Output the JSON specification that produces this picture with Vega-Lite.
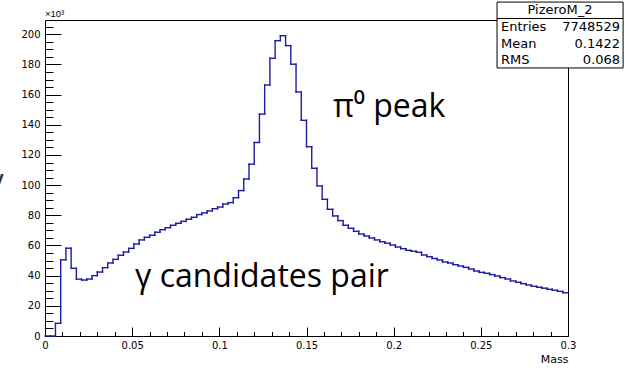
{
  "$schema": "https://vega.github.io/schema/vega-lite/v6.json",
  "width": 523,
  "height": 316,
  "autosize": {"type": "none"},
  "padding": {"left": 45, "top": 20, "right": 57, "bottom": 32},
  "background": "#ffffff",
  "config": {
    "view": {"stroke": "#000000", "strokeWidth": 1},
    "axis": {
      "labelFont": "DejaVu Sans",
      "labelFontSize": 10,
      "labelColor": "#000000",
      "tickColor": "#000000",
      "tickWidth": 1,
      "domain": false,
      "grid": false,
      "title": null
    },
    "text": {"font": "Open Sans"}
  },
  "datasets": {
    "hist": [
      {"lo": 0.000, "hi": 0.003, "n": 0},
      {"lo": 0.003, "hi": 0.006, "n": 0},
      {"lo": 0.006, "hi": 0.009, "n": 8400},
      {"lo": 0.009, "hi": 0.012, "n": 50500},
      {"lo": 0.012, "hi": 0.015, "n": 58200},
      {"lo": 0.015, "hi": 0.018, "n": 44900},
      {"lo": 0.018, "hi": 0.021, "n": 37700},
      {"lo": 0.021, "hi": 0.024, "n": 37100},
      {"lo": 0.024, "hi": 0.027, "n": 37800},
      {"lo": 0.027, "hi": 0.030, "n": 40000},
      {"lo": 0.030, "hi": 0.033, "n": 42400},
      {"lo": 0.033, "hi": 0.036, "n": 45300},
      {"lo": 0.036, "hi": 0.039, "n": 48400},
      {"lo": 0.039, "hi": 0.042, "n": 50800},
      {"lo": 0.042, "hi": 0.045, "n": 53500},
      {"lo": 0.045, "hi": 0.048, "n": 55700},
      {"lo": 0.048, "hi": 0.051, "n": 58100},
      {"lo": 0.051, "hi": 0.054, "n": 61000},
      {"lo": 0.054, "hi": 0.057, "n": 63700},
      {"lo": 0.057, "hi": 0.060, "n": 65400},
      {"lo": 0.060, "hi": 0.063, "n": 66800},
      {"lo": 0.063, "hi": 0.066, "n": 68800},
      {"lo": 0.066, "hi": 0.069, "n": 70500},
      {"lo": 0.069, "hi": 0.072, "n": 71800},
      {"lo": 0.072, "hi": 0.075, "n": 73400},
      {"lo": 0.075, "hi": 0.078, "n": 74700},
      {"lo": 0.078, "hi": 0.081, "n": 76000},
      {"lo": 0.081, "hi": 0.084, "n": 77400},
      {"lo": 0.084, "hi": 0.087, "n": 78700},
      {"lo": 0.087, "hi": 0.090, "n": 80500},
      {"lo": 0.090, "hi": 0.093, "n": 81600},
      {"lo": 0.093, "hi": 0.096, "n": 82900},
      {"lo": 0.096, "hi": 0.099, "n": 84400},
      {"lo": 0.099, "hi": 0.102, "n": 85500},
      {"lo": 0.102, "hi": 0.105, "n": 87500},
      {"lo": 0.105, "hi": 0.108, "n": 88400},
      {"lo": 0.108, "hi": 0.111, "n": 91700},
      {"lo": 0.111, "hi": 0.114, "n": 96400},
      {"lo": 0.114, "hi": 0.117, "n": 104100},
      {"lo": 0.117, "hi": 0.120, "n": 113900},
      {"lo": 0.120, "hi": 0.123, "n": 128300},
      {"lo": 0.123, "hi": 0.126, "n": 147100},
      {"lo": 0.126, "hi": 0.129, "n": 166400},
      {"lo": 0.129, "hi": 0.132, "n": 184100},
      {"lo": 0.132, "hi": 0.135, "n": 195800},
      {"lo": 0.135, "hi": 0.138, "n": 199100},
      {"lo": 0.138, "hi": 0.141, "n": 192500},
      {"lo": 0.141, "hi": 0.144, "n": 180200},
      {"lo": 0.144, "hi": 0.147, "n": 161800},
      {"lo": 0.147, "hi": 0.150, "n": 143000},
      {"lo": 0.150, "hi": 0.153, "n": 125500},
      {"lo": 0.153, "hi": 0.156, "n": 111200},
      {"lo": 0.156, "hi": 0.159, "n": 99500},
      {"lo": 0.159, "hi": 0.162, "n": 90600},
      {"lo": 0.162, "hi": 0.165, "n": 84000},
      {"lo": 0.165, "hi": 0.168, "n": 79600},
      {"lo": 0.168, "hi": 0.171, "n": 76500},
      {"lo": 0.171, "hi": 0.174, "n": 73400},
      {"lo": 0.174, "hi": 0.177, "n": 71400},
      {"lo": 0.177, "hi": 0.180, "n": 69400},
      {"lo": 0.180, "hi": 0.183, "n": 67600},
      {"lo": 0.183, "hi": 0.186, "n": 66300},
      {"lo": 0.186, "hi": 0.189, "n": 65000},
      {"lo": 0.189, "hi": 0.192, "n": 63700},
      {"lo": 0.192, "hi": 0.195, "n": 62500},
      {"lo": 0.195, "hi": 0.198, "n": 61500},
      {"lo": 0.198, "hi": 0.201, "n": 60300},
      {"lo": 0.201, "hi": 0.204, "n": 59000},
      {"lo": 0.204, "hi": 0.207, "n": 57900},
      {"lo": 0.207, "hi": 0.210, "n": 56800},
      {"lo": 0.210, "hi": 0.213, "n": 56200},
      {"lo": 0.213, "hi": 0.216, "n": 55500},
      {"lo": 0.216, "hi": 0.219, "n": 53700},
      {"lo": 0.219, "hi": 0.222, "n": 52600},
      {"lo": 0.222, "hi": 0.225, "n": 51400},
      {"lo": 0.225, "hi": 0.228, "n": 50400},
      {"lo": 0.228, "hi": 0.231, "n": 49100},
      {"lo": 0.231, "hi": 0.234, "n": 48400},
      {"lo": 0.234, "hi": 0.237, "n": 47300},
      {"lo": 0.237, "hi": 0.240, "n": 46400},
      {"lo": 0.240, "hi": 0.243, "n": 45500},
      {"lo": 0.243, "hi": 0.246, "n": 44400},
      {"lo": 0.246, "hi": 0.249, "n": 43100},
      {"lo": 0.249, "hi": 0.252, "n": 42200},
      {"lo": 0.252, "hi": 0.255, "n": 41600},
      {"lo": 0.255, "hi": 0.258, "n": 40700},
      {"lo": 0.258, "hi": 0.261, "n": 39800},
      {"lo": 0.261, "hi": 0.264, "n": 38700},
      {"lo": 0.264, "hi": 0.267, "n": 37800},
      {"lo": 0.267, "hi": 0.270, "n": 36500},
      {"lo": 0.270, "hi": 0.273, "n": 35600},
      {"lo": 0.273, "hi": 0.276, "n": 34700},
      {"lo": 0.276, "hi": 0.279, "n": 33800},
      {"lo": 0.279, "hi": 0.282, "n": 33000},
      {"lo": 0.282, "hi": 0.285, "n": 32300},
      {"lo": 0.285, "hi": 0.288, "n": 31700},
      {"lo": 0.288, "hi": 0.291, "n": 31000},
      {"lo": 0.291, "hi": 0.294, "n": 30300},
      {"lo": 0.294, "hi": 0.297, "n": 29600},
      {"lo": 0.297, "hi": 0.300, "n": 28700}
    ],
    "notes": [
      {"text": "γ candidates pair", "m": 0.0516, "c": 32500, "col": "#000000"},
      {"text": "π⁰ peak", "m": 0.1652, "c": 145200, "col": "#000000"},
      {"text": "γ", "m": -0.0330, "c": 95500, "col": "#333333"}
    ],
    "statsBox": [
      {"x0": 0.2593, "x1": 0.3316, "y0": 177700, "y1": 221400, "ysep": 210500}
    ],
    "statsRows": [
      {"name": "Entries", "val": "7748529", "c": 204850},
      {"name": "Mean", "val": "0.1422", "c": 193900},
      {"name": "RMS", "val": "0.068", "c": 183000}
    ]
  },
  "resolve": {"axis": {"x": "independent", "y": "independent"}},
  "layer": [
    {
      "data": {"name": "hist"},
      "mark": {"type": "rule", "color": "#1c1ca3", "strokeWidth": 1.4, "strokeCap": "square"},
      "encoding": {
        "x": {
          "field": "lo", "type": "quantitative",
          "scale": {"domain": [0, 0.3], "nice": false, "zero": false},
          "axis": {
            "orient": "bottom",
            "values": [0, 0.05, 0.1, 0.15, 0.2, 0.25, 0.3],
            "format": "~g",
            "tickSize": -9,
            "labelPadding": 13,
            "labelFlush": false,
            "labelOverlap": false,
            "title": "Mass",
            "titleFont": "DejaVu Sans",
            "titleFontSize": 11,
            "titleFontWeight": "normal",
            "titleColor": "#000000",
            "titleAnchor": "end",
            "titleAlign": "right",
            "titlePadding": 3
          }
        },
        "x2": {"field": "hi"},
        "y": {
          "field": "n", "type": "quantitative",
          "scale": {"domain": [0, 209500], "nice": false},
          "axis": {
            "orient": "left",
            "values": [0, 20000, 40000, 60000, 80000, 100000, 120000, 140000, 160000, 180000, 200000],
            "labelExpr": "datum.value / 1000",
            "tickSize": -16,
            "labelPadding": 21,
            "labelOverlap": false,
            "labelFlush": false
          }
        }
      }
    },
    {
      "data": {"name": "hist"},
      "transform": [
        {"window": [{"op": "lag", "field": "n", "as": "prev"}], "sort": [{"field": "lo"}]},
        {"filter": "datum.prev != null"}
      ],
      "mark": {"type": "rule", "color": "#1c1ca3", "strokeWidth": 1.4, "strokeCap": "square"},
      "encoding": {
        "x": {
          "field": "lo", "type": "quantitative",
          "axis": {
            "orient": "bottom",
            "values": [0.01, 0.02, 0.03, 0.04, 0.06, 0.07, 0.08, 0.09, 0.11, 0.12, 0.13, 0.14, 0.16, 0.17, 0.18, 0.19, 0.21, 0.22, 0.23, 0.24, 0.26, 0.27, 0.28, 0.29],
            "tickSize": -4.5,
            "labels": false
          }
        },
        "y": {
          "field": "prev", "type": "quantitative",
          "axis": {
            "orient": "left",
            "values": [5000, 10000, 15000, 25000, 30000, 35000, 45000, 50000, 55000, 65000, 70000, 75000, 85000, 90000, 95000, 105000, 110000, 115000, 125000, 130000, 135000, 145000, 150000, 155000, 165000, 170000, 175000, 185000, 190000, 195000, 205000],
            "tickSize": -8,
            "labels": false
          }
        },
        "y2": {"field": "n"}
      }
    },
    {
      "data": {"values": [{"m": 0, "c": 209500}]},
      "mark": {"type": "text", "text": "×10³", "font": "Liberation Sans", "fontSize": 9.5, "align": "left", "baseline": "bottom", "dy": -1, "color": "#000000"},
      "encoding": {
        "x": {"field": "m", "type": "quantitative", "axis": null},
        "y": {"field": "c", "type": "quantitative", "axis": null}
      }
    },
    {
      "data": {"name": "notes"},
      "mark": {"type": "text", "fontSize": 32, "align": "left", "baseline": "alphabetic"},
      "encoding": {
        "x": {"field": "m", "type": "quantitative", "axis": null},
        "y": {"field": "c", "type": "quantitative", "axis": null},
        "text": {"field": "text"},
        "color": {"field": "col", "type": "nominal", "scale": null}
      }
    },
    {
      "data": {"name": "statsBox"},
      "mark": {"type": "rect", "fill": "#ffffff", "stroke": "#000000", "strokeWidth": 1},
      "encoding": {
        "x": {"field": "x0", "type": "quantitative", "axis": null},
        "x2": {"field": "x1"},
        "y": {"field": "y0", "type": "quantitative", "axis": null},
        "y2": {"field": "y1"}
      }
    },
    {
      "data": {"name": "statsBox"},
      "mark": {"type": "rule", "color": "#000000", "strokeWidth": 1},
      "encoding": {
        "x": {"field": "x0", "type": "quantitative", "axis": null},
        "x2": {"field": "x1"},
        "y": {"field": "ysep", "type": "quantitative", "axis": null}
      }
    },
    {
      "data": {"values": [{"t": "PizeroM_2", "m": 0.29545, "c": 215900}]},
      "mark": {"type": "text", "font": "DejaVu Sans", "fontSize": 13, "align": "center", "baseline": "middle", "color": "#000000"},
      "encoding": {
        "x": {"field": "m", "type": "quantitative", "axis": null},
        "y": {"field": "c", "type": "quantitative", "axis": null},
        "text": {"field": "t"}
      }
    },
    {
      "data": {"name": "statsRows"},
      "mark": {"type": "text", "font": "DejaVu Sans", "fontSize": 13, "align": "left", "baseline": "middle", "dx": 4, "color": "#000000"},
      "encoding": {
        "x": {"datum": 0.2593, "type": "quantitative", "axis": null},
        "y": {"field": "c", "type": "quantitative", "axis": null},
        "text": {"field": "name"}
      }
    },
    {
      "data": {"name": "statsRows"},
      "mark": {"type": "text", "font": "DejaVu Sans", "fontSize": 13, "align": "right", "baseline": "middle", "dx": -3, "color": "#000000"},
      "encoding": {
        "x": {"datum": 0.3316, "type": "quantitative", "axis": null},
        "y": {"field": "c", "type": "quantitative", "axis": null},
        "text": {"field": "val"}
      }
    }
  ]
}
